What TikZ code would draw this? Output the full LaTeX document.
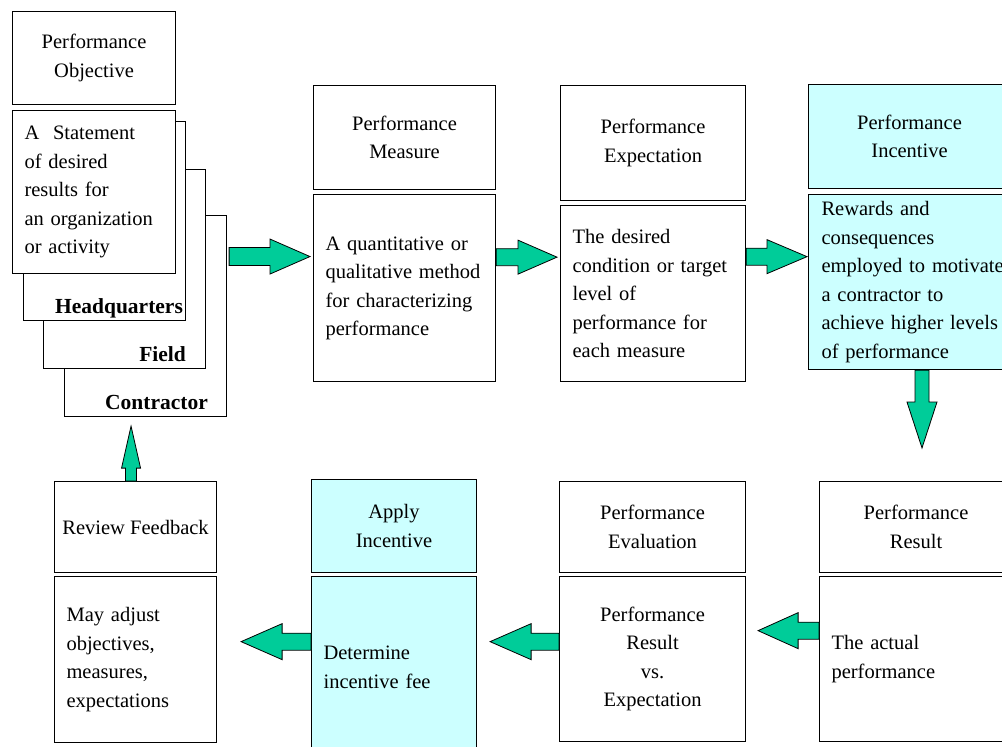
\documentclass[tikz,border=0pt]{standalone}
\usepackage{fontspec}
\setmainfont{Liberation Serif}
\usetikzlibrary{positioning,calc}
\definecolor{flowgreen}{RGB}{0,204,153}
\definecolor{paleblue}{RGB}{204,255,255}
\tikzset{
  box/.style={draw, line width=1.1pt, fill=white, inner sep=0pt,
    font=\fontsize{20.5}{28.5}\selectfont},
  headbox/.style={box, align=center},
  bodybox/.style={box, align=left, inner xsep=12pt},
  tier/.style={font=\fontsize{21.5}{24}\selectfont\bfseries, inner sep=0pt, anchor=base east},
  flow/.style={fill=flowgreen, draw=black, line width=0.8pt, line join=miter},
}
% block arrow: start, tip, shaft half width, head half width, head length
\newcommand{\flowarrow}[5]{%
  \coordinate (fa-b) at ($(#2)!#5!(#1)$);
  \draw[flow] ($(#1)!#3!90:(#2)$) -- ($(fa-b)!#3!90:(#2)$) -- ($(fa-b)!#4!90:(#2)$)
    -- (#2) -- ($(fa-b)!#4!-90:(#2)$) -- ($(fa-b)!#3!-90:(#2)$) -- ($(#1)!#3!-90:(#2)$) -- cycle;
}

\begin{document}
\begin{tikzpicture}[x=1pt,y=-1pt]
  \clip (0,0) rectangle (1002,747);

  % Nodes, top row
  \node[headbox, anchor=north west, minimum width=163pt, minimum height=93pt] (objt) at (12,11) {Performance\\Objective};
  \node[box, anchor=north west, minimum width=162pt, minimum height=201pt,
    label={[tier, xshift=-19pt, yshift=8pt]south east:Contractor}] (ctr) at (64,215) {};
  \node[box, anchor=north west, minimum width=162pt, minimum height=199pt,
    label={[tier, xshift=-20pt, yshift=8pt]south east:Field}] (fld) at (43,169) {};
  \node[box, anchor=north west, minimum width=162pt, minimum height=199pt,
    label={[tier, xshift=-3pt, yshift=8pt]south east:Headquarters}] (hq) at (23,121) {};
  \node[bodybox, text width=139pt, minimum height=163pt, below=5pt of objt] (objb) {A\ \ Statement\\of desired\\results for\\an organization\\or activity};

  \node[headbox, anchor=north west, minimum width=182pt, minimum height=104pt] (pmt) at (313,85) {Performance\\Measure};
  \node[bodybox, text width=158pt, minimum height=187pt, below=4pt of pmt] (pmb) {A quantitative or\\qualitative method\\for characterizing\\performance};

  \node[headbox, anchor=north west, minimum width=185pt, minimum height=115pt] (pet) at (560,85) {Performance\\Expectation};
  \node[bodybox, text width=161pt, minimum height=176pt, below=4pt of pet] (peb) {The desired\\condition or target\\level of\\performance for\\each measure};

  \node[headbox, fill=paleblue, anchor=north west, minimum width=202pt, minimum height=104pt] (pit) at (808,84) {Performance\\Incentive};
  \node[bodybox, fill=paleblue, inner xsep=13pt, text width=200pt, minimum height=175pt,
    below=5pt of pit.south west, anchor=north west] (pib) {Rewards and\\consequences\\employed to motivate\\a contractor to\\achieve higher levels\\of performance};

  % Nodes, bottom row
  \node[headbox, anchor=north west, minimum width=162pt, minimum height=91pt] (rft) at (54,481) {Review Feedback};
  \node[bodybox, text width=138pt, minimum height=166pt, below=3pt of rft] (rfb) {May adjust\\objectives,\\measures,\\expectations};

  \node[headbox, fill=paleblue, anchor=north west, minimum width=165pt, minimum height=93pt] (ait) at (311,479) {Apply\\Incentive};
  \node[bodybox, fill=paleblue, text width=141pt, minimum height=181pt, below=3pt of ait] (aib) {Determine\\incentive fee};

  \node[headbox, anchor=north west, minimum width=186pt, minimum height=91pt] (evt) at (559,481) {Performance\\Evaluation};
  \node[bodybox, align=center, text width=162pt, minimum height=165pt, below=3pt of evt] (evb) {Performance\\Result\\vs.\\Expectation};

  \node[headbox, anchor=north west, minimum width=193pt, minimum height=91pt] (prt) at (819,481) {Performance\\Result};
  \node[bodybox, text width=169pt, minimum height=165pt, below=3pt of prt] (prb) {The actual\\performance};

  % Edges
  \coordinate (a1s) at ($(ctr.east)+(2pt,59.5pt)$);
  \coordinate (a1t) at ($(a1s -| pmb.west)+(-3pt,0pt)$);
  \coordinate (a2s) at ($(pmb.east)+(0pt,31pt)$);
  \coordinate (a2t) at ($(a2s -| peb.west)+(-3pt,0pt)$);
  \coordinate (a3s) at ($(peb.east)+(0pt,37pt)$);
  \coordinate (a3t) at ($(a3s -| pib.west)+(-1pt,0pt)$);
  \coordinate (a4s) at ($(pib.south west)+(114pt,0pt)$);
  \coordinate (a4t) at ($(a4s |- prt.north)+(0pt,33pt)$);
  \coordinate (a5s) at ($(rft.north)+(-4.5pt,0pt)$);
  \coordinate (a5t) at ($(a5s |- ctr.south)+(0pt,-9pt)$);
  \coordinate (a6s) at ($(prb.west)+(0pt,28.5pt)$);
  \coordinate (a6t) at ($(a6s -| evb.east)+(12pt,0pt)$);
  \coordinate (a7s) at ($(evb.west)+(0pt,17.5pt)$);
  \coordinate (a7t) at ($(a7s -| aib.east)+(13pt,0pt)$);
  \coordinate (a8s) at ($(aib.west)+(0pt,25.5pt)$);
  \coordinate (a8t) at ($(a8s -| rfb.east)+(24pt,0pt)$);

  \flowarrow{a1s}{a1t}{9pt}{17.5pt}{40pt}
  \flowarrow{a2s}{a2t}{8.5pt}{17pt}{39pt}
  \flowarrow{a3s}{a3t}{8.5pt}{17pt}{40pt}
  \flowarrow{a4s}{a4t}{7pt}{15pt}{46pt}
  \flowarrow{a5s}{a5t}{5.5pt}{9.5pt}{42pt}
  \flowarrow{a6s}{a6t}{8.5pt}{18pt}{40pt}
  \flowarrow{a7s}{a7t}{8.5pt}{18pt}{41pt}
  \flowarrow{a8s}{a8t}{8.5pt}{18pt}{41pt}
\end{tikzpicture}
\end{document}
